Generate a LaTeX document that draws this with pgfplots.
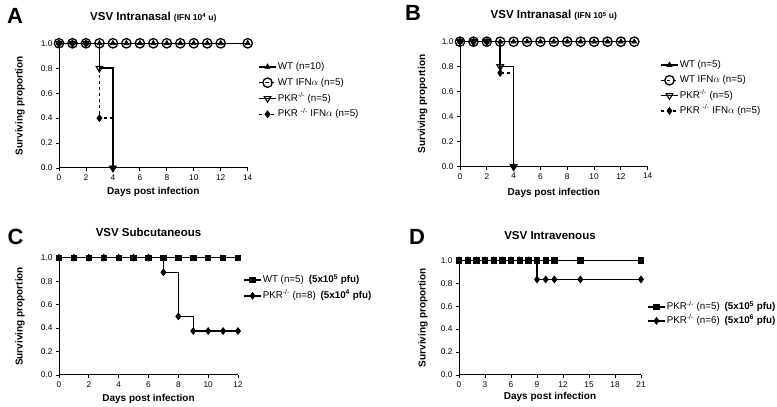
\documentclass[border=0pt]{standalone}
\usepackage{pgfplots}
\pgfplotsset{compat=1.18}
\usepackage{fontspec}
\setmainfont{Liberation Sans}

\pgfplotsset{
 km/.style={
  scale only axis, clip=false,
  axis x line*=bottom, axis y line*=left,
  axis line style={-, line width=1pt},
  ymin=0, ymax=1,
  ytick={0,0.2,0.4,0.6,0.8,1},
  y tick label style={/pgf/number format/fixed, /pgf/number format/fixed zerofill, /pgf/number format/precision=1},
  /pgf/number format/assume math mode=true,
  tick label style={font=\fontsize{8.3}{9}\selectfont},
  tick align=outside, major tick length=3pt,
  every tick/.style={black, line width=0.9pt},
  xlabel={Days post infection}, ylabel={Surviving proportion},
  xlabel style={font=\bfseries\fontsize{10}{11}\selectfont, anchor=center},
  ylabel style={font=\bfseries\fontsize{10}{11}\selectfont, anchor=center},
  title style={font=\bfseries\fontsize{11.5}{13}\selectfont, anchor=center, at={(axis description cs:0.5,1.16)}},
  legend cell align=left,
  legend style={draw=none, fill=none, font=\fontsize{9.8}{11}\selectfont, anchor=west, inner sep=0pt,
     nodes={inner sep=1pt, text height=7pt, text depth=1.8pt}},
  every axis plot/.append style={line width=1.5pt, black, const plot},
 },
 wtm/.style={mark=triangle*, mark size=2.8pt, mark options={solid, fill=black, line width=0.8pt}},
 cim/.style={mark=o, mark size=4.7pt, mark options={solid, line width=1.3pt}},
 dtm/.style={mark=triangle, mark size=3.8pt, mark options={solid, rotate=180, line width=1.1pt}},
 dim/.style={mark=diamond*, mark size=3.3pt, mark options={solid, fill=black, line width=0.8pt}},
 sqm/.style={mark=square*, mark size=2.7pt, mark options={solid, fill=black, line width=0.8pt}},
}

\begin{document}
\begin{tikzpicture}
\path[use as bounding box] (0,0) rectangle (777pt,407pt);

% Panel letters
\node[font=\bfseries\fontsize{22}{24}\selectfont] at (15pt,391.5pt) {A};
\node[font=\bfseries\fontsize{22}{24}\selectfont] at (413pt,394pt) {B};
\node[font=\bfseries\fontsize{22}{24}\selectfont] at (15.5pt,170pt) {C};
\node[font=\bfseries\fontsize{22}{24}\selectfont] at (417pt,170pt) {D};

% ---------- A ----------
\begin{axis}[km, at={(59pt,239pt)}, anchor=south west, width=188.7pt, height=124.7pt,
  xmin=0, xmax=14, xtick={0,2,...,14},
  title={VSV Intranasal {\fontsize{8.5}{9}\selectfont(IFN 10\textsuperscript{4} u)}},
  xlabel style={at={(axis description cs:0.5,-0.19)}},
  ylabel style={at={(axis description cs:-0.207,0.5)}},
  legend style={at={(axis description cs:1.055,0.621)}, row sep=5pt}]
\addplot[wtm] coordinates {(0,1)(1,1)(2,1)(3,1)(4,1)(5,1)(6,1)(7,1)(8,1)(9,1)(10,1)(11,1)(12,1)(14,1)};
\addlegendentry{WT (n=10)}
\addplot[cim, dashed] coordinates {(0,1)(1,1)(2,1)(3,1)(4,1)(5,1)(6,1)(7,1)(8,1)(9,1)(10,1)(11,1)(12,1)(14,1)};
\addlegendentry{WT IFN$\alpha$ (n=5)}
\addplot[dtm] coordinates {(0,1)(1,1)(2,1)(3,0.8)(4,0)};
\addlegendentry{PKR\textsuperscript{-/-} (n=5)}
\addplot[dim, dashed] coordinates {(0,1)(1,1)(2,1)(3,0.4)(4,0)};
\addlegendentry{PKR \textsuperscript{-/-} IFN$\alpha$ (n=5)}
\end{axis}

% ---------- B ----------
\begin{axis}[km, at={(460pt,240.3pt)}, anchor=south west, width=187.7pt, height=125pt,
  xmin=0, xmax=14, xtick={0,2,...,14},
  title={VSV Intranasal {\fontsize{8.5}{9}\selectfont(IFN 10\textsuperscript{5} u)}},
  xlabel style={at={(axis description cs:0.5,-0.21)}},
  ylabel style={at={(axis description cs:-0.2,0.5)}},
  legend style={at={(axis description cs:1.0655,0.63)}, row sep=4.5pt}]
\addplot[wtm] coordinates {(0,1)(1,1)(2,1)(3,1)(4,1)(5,1)(6,1)(7,1)(8,1)(9,1)(10,1)(11,1)(12,1)(13,1)};
\addlegendentry{WT (n=5)}
\addplot[cim, dashed] coordinates {(0,1)(1,1)(2,1)(3,1)(4,1)(5,1)(6,1)(7,1)(8,1)(9,1)(10,1)(11,1)(12,1)(13,1)};
\addlegendentry{WT IFN$\alpha$ (n=5)}
\addplot[dtm] coordinates {(0,1)(1,1)(2,1)(3,0.8)(4,0)};
\addlegendentry{PKR\textsuperscript{-/-} (n=5)}
\addplot[dim, dashed] coordinates {(0,1)(1,1)(2,1)(3,0.75)(4,0)};
\addlegendentry{PKR \textsuperscript{-/-} IFN$\alpha$ (n=5)}
\end{axis}

% ---------- C ----------
\begin{axis}[km, at={(59pt,32pt)}, anchor=south west, width=179pt, height=117.3pt,
  xmin=0, xmax=12, xtick={0,2,...,12},
  title={VSV Subcutaneous},
  title style={at={(axis description cs:0.5,1.168)}},
  xlabel style={at={(axis description cs:0.5,-0.205)}},
  ylabel style={at={(axis description cs:-0.218,0.5)}},
  legend style={at={(axis description cs:1.028,0.742)}, row sep=5pt}]
\addplot[sqm] coordinates {(0,1)(1,1)(2,1)(3,1)(4,1)(5,1)(6,1)(7,1)(8,1)(9,1)(10,1)(11,1)(12,1)};
\addlegendentry{WT (n=5)\enspace\textbf{(5x10\textsuperscript{5} pfu)}}
\addplot[dim] coordinates {(0,1)(1,1)(2,1)(3,1)(4,1)(5,1)(6,1)(7,0.875)(8,0.5)(9,0.375)(10,0.375)(11,0.375)(12,0.375)};
\addlegendentry{PKR\textsuperscript{-/-} (n=8)\enspace\textbf{(5x10\textsuperscript{4} pfu)}}
\end{axis}

% ---------- D ----------
\begin{axis}[km, at={(459pt,32pt)}, anchor=south west, width=182pt, height=114.7pt,
  xmin=0, xmax=21, xtick={0,3,...,21},
  title={VSV Intravenous},
  xlabel style={at={(axis description cs:0.5,-0.19)}},
  ylabel style={at={(axis description cs:-0.198,0.5)}},
  legend style={at={(axis description cs:1.033,0.532)}, row sep=3pt}]
\addplot[sqm] coordinates {(0,1)(1,1)(2,1)(3,1)(4,1)(5,1)(6,1)(7,1)(8,1)(9,1)(10,1)(11,1)(14,1)(21,1)};
\addlegendentry{PKR\textsuperscript{-/-} (n=5)\enspace\textbf{(5x10\textsuperscript{5} pfu)}}
\addplot[dim] coordinates {(0,1)(1,1)(2,1)(3,1)(4,1)(5,1)(6,1)(7,1)(8,1)(9,0.8333)(10,0.8333)(11,0.8333)(14,0.8333)(21,0.8333)};
\addlegendentry{PKR\textsuperscript{-/-} (n=6)\enspace\textbf{(5x10\textsuperscript{6} pfu)}}
\end{axis}
\end{tikzpicture}
\end{document}
